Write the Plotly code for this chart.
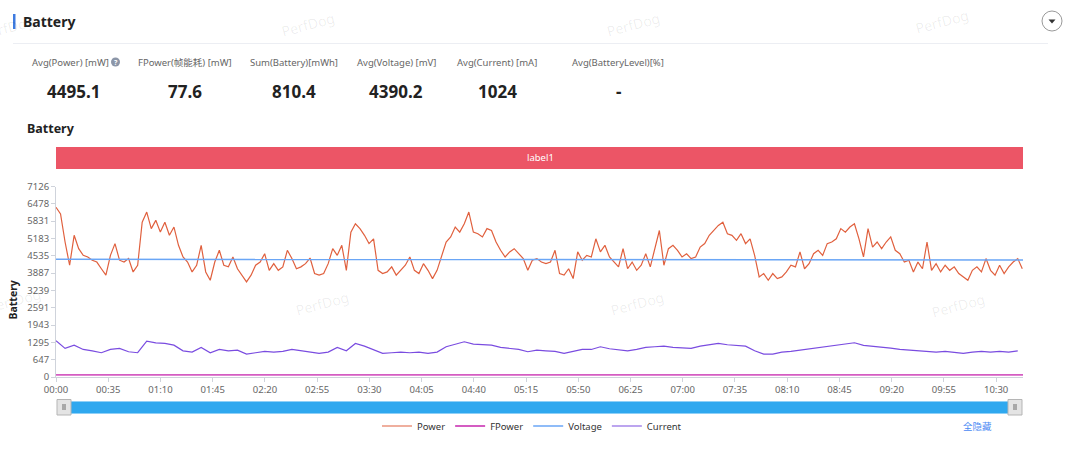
import plotly.graph_objects as go

W, H = 1080, 466

# ---------------- data ----------------
power_step = 3.04          # seconds between power samples
power = [
    6350, 6100, 5050, 4180, 5300, 4800, 4550, 4490, 4370, 4300,
    4050, 3810, 4550, 4990, 4370, 4300, 4430, 3930, 4180, 5790,
    6170, 5550, 5860, 5420, 5790, 5300, 5610, 4925, 4490, 4300,
    3930, 4180, 4925, 3930, 3620, 4300, 4740, 4180, 4120, 4490,
    4050, 3810, 3560, 3810, 4180, 4300, 4610, 3990, 4240, 3990,
    4120, 4740, 4430, 4050,
    4120, 4240, 4450, 3870, 3810, 3870, 4240, 4800, 4550, 4925,
    3990, 5420, 5730, 5550, 5300, 4990, 5170, 3990, 3870, 3930,
    4120, 3810, 3990, 4180, 4490, 3990, 3870, 4240, 3990, 3680,
    3990, 4490, 5050, 5240, 5610, 5420, 5730, 6170, 5420, 5360,
    5240, 5550, 5480, 5050, 4740, 4490, 4680, 4800, 4610, 4430,
    3990, 4370, 4430,
    4300, 4240, 4300, 4740, 3870, 3810, 4050, 3680, 4680, 4370,
    4550, 4490, 5170, 4680, 4925, 4490, 4300, 4120, 4800, 4050,
    4300, 3990, 4180, 4610, 4120, 4800, 5480, 4180, 4800, 4925,
    4740, 4490, 4610, 4430, 4490, 4860, 4990, 5300, 5480, 5670,
    5790, 5360, 5300, 5110, 5360, 4990, 5170, 4550, 3745, 3870,
    3620, 3870, 3680,
    3745, 3930, 4180, 4120, 4680, 4050, 4240, 4610, 4740, 4550,
    4990, 5050, 5170, 5550, 5420, 5610, 5730, 5170, 4490, 5550,
    4860, 5050, 4800, 5050, 5240, 4740, 4610, 4300, 4370, 3930,
    4300, 4050, 5050, 3990, 4240, 3930, 4180, 3990, 4120, 3870,
    3745, 3620, 3990, 4120, 3930, 4430, 3990, 3810, 4180, 3870,
    4120, 4300, 4430, 4050,
]

current_step = 6.08
current = [
    1355, 1070, 1190, 1030, 980, 908, 1030, 1070, 945, 908,
    1343, 1280, 1256, 1190, 980, 933, 1107, 908, 1030, 980,
    1007, 858, 908, 958, 933, 958, 1030, 980, 908, 883,
    933, 1107, 980, 1256, 1156, 1030, 883, 908, 933, 908,
    933, 883, 933, 1131, 1231, 1318, 1231, 1206, 1194, 1107,
    1057, 1030, 945, 1007,
    980, 958, 883, 945, 1030, 1030, 1131, 1057, 1030, 980,
    1030, 1107, 1131, 1156, 1107, 1082, 1070, 1156, 1206, 1256,
    1206, 1181, 1156, 980, 858, 858, 933, 958, 1007, 1057,
    1107, 1131, 1181, 1231, 1281, 1181, 1156, 1131, 1082, 1030,
    1007, 980, 958, 933, 958, 933, 883, 933, 958, 933,
    958, 933, 980,
]

slow_t = [0, 60, 120, 180, 240, 300, 360, 420, 480, 540, 600, 648]
voltage = [4402, 4400, 4398, 4396, 4394, 4392, 4390, 4388, 4386, 4384, 4382, 4380]
fpower = [82, 79, 78, 80, 77, 76, 78, 77, 76, 78, 77, 76]

x_end = 648
y_ticks = [0, 647, 1295, 1943, 2591, 3239, 3887, 4535, 5183, 5831, 6478, 7126]
x_tick_sec = [0, 35, 70, 105, 140, 175, 210, 245, 280, 315, 350, 385,
              420, 455, 490, 525, 560, 595, 630]
x_tick_labels = ["00:00", "00:35", "01:10", "01:45", "02:20", "02:55", "03:30",
                 "04:05", "04:40", "05:15", "05:50", "06:25", "07:00", "07:35",
                 "08:10", "08:45", "09:20", "09:55", "10:30"]

stat_labels = ["Avg(Power) [mW]", "FPower(帧能耗) [mW]", "Sum(Battery)[mWh]",
               "Avg(Voltage) [mV]", "Avg(Current) [mA]", "Avg(BatteryLevel)[%]"]
stat_values = ["4495.1", "77.6", "810.4", "4390.2", "1024", "-"]

# ---------------- helpers ----------------
def px(x):
    return x / W

def py(y):
    return 1 - y / H

def note(text, x, y, size, color, anchor="center", angle=0):
    return dict(text=text, x=px(x), y=py(y), xref="paper", yref="paper",
                xanchor=anchor, yanchor="middle", showarrow=False,
                textangle=angle, font=dict(size=size, color=color))

def prect(x0, x1, y0, y1, fill, line=None):
    return dict(type="rect", xref="paper", yref="paper", layer="above",
                x0=px(x0), x1=px(x1), y0=py(y1), y1=py(y0),
                fillcolor=fill, line=line or dict(width=0))

FONT = "Noto Sans, Noto Sans CJK SC, sans-serif"

power_t = [i * power_step for i in range(len(power))]
current_t = [i * current_step for i in range(len(current))]

fig = go.Figure()
fig.add_trace(go.Scatter(x=power_t, y=power, name="Power", mode="lines",
                         line=dict(color="#e0603e", width=1.2)))
fig.add_trace(go.Scatter(x=slow_t, y=fpower, name="FPower", mode="lines",
                         cliponaxis=False,
                         line=dict(color="#d45cc2", width=1.8)))
fig.add_trace(go.Scatter(x=slow_t, y=voltage, name="Voltage", mode="lines",
                         line=dict(color="#6aa6f6", width=1.5)))
fig.add_trace(go.Scatter(x=current_t, y=current, name="Current", mode="lines",
                         line=dict(color="#7a4ce0", width=1.2)))

shapes = []
annotations = []

# watermarks
for wx, wy in [(8, 28), (308, 25), (633, 24), (942, 22),
               (14, 300), (322, 303), (637, 303), (958, 305)]:
    annotations.append(note("PerfDog", wx, wy, 14, "rgba(0,0,0,0.07)", angle=-15))

# header
shapes.append(prect(13, 15.5, 14, 29, "#3e7be0"))
annotations.append(note("<b>Battery</b>", 21, 22, 14, "#222", anchor="left"))
shapes.append(dict(type="line", xref="paper", yref="paper",
                   x0=px(13), x1=px(1048), y0=py(43.5), y1=py(43.5),
                   line=dict(color="#eceef3", width=1.2)))
shapes.append(dict(type="circle", xref="paper", yref="paper",
                   x0=px(1042), x1=px(1062), y0=py(31), y1=py(11),
                   fillcolor="white", line=dict(color="#9a9a9a", width=1)))
shapes.append(dict(type="path", xref="paper", yref="paper",
                   path=f"M{px(1048.5)},{py(19.5)} L{px(1055.5)},{py(19.5)} L{px(1052)},{py(23.5)} Z",
                   fillcolor="#333", line=dict(width=0)))

# stats
stat_x = [73, 185, 294, 396, 497, 618]
for lab, val, x in zip(stat_labels, stat_values, stat_x):
    annotations.append(note(lab, x - 3 if x == 73 else x, 62, 9.5, "#666"))
    annotations.append(note(f"<b>{val}</b>", x, 91, 17, "#222"))
shapes.append(dict(type="circle", xref="paper", yref="paper",
                   x0=px(111), x1=px(120), y0=py(66.5), y1=py(57.5),
                   fillcolor="#8c96a8", line=dict(width=0)))
annotations.append(note("<b>?</b>", 115.5, 62, 7, "white"))

# subtitle
annotations.append(note("<b>Battery</b>", 25, 129, 12.5, "#222", anchor="left"))

# label bar
shapes.append(prect(56, 1023, 147, 169, "#ec5566"))
annotations.append(note("label1", 540, 158, 9.5, "white"))

# y-axis title
annotations.append(note("<b>Battery</b>", 12.5, 300, 10.5, "#222", angle=-90))

# slider
shapes.append(prect(60, 1019, 401.5, 413.5, "#2fa8ef", dict(color="#8fd0f7", width=1)))
for hx in (57, 1008):
    shapes.append(prect(hx, hx + 14, 399.5, 415, "#e4e4e4", dict(color="#b5b5b5", width=1)))
    shapes.append(prect(hx + 5, hx + 9, 404, 410, "#a8a8a8"))

annotations.append(note("全隐藏", 977, 426, 9.5, "#4a8af4"))

fig.update_layout(
    width=W, height=H,
    margin=dict(l=0, r=0, t=0, b=0, pad=0),
    paper_bgcolor="white", plot_bgcolor="white",
    font=dict(family=FONT, size=10, color="#666"),
    shapes=shapes, annotations=annotations,
    showlegend=True,
    legend=dict(orientation="h", x=px(532), xanchor="center", y=py(426),
                yanchor="middle", font=dict(size=9.5, color="#333"),
                bgcolor="rgba(0,0,0,0)", itemwidth=30),
    xaxis=dict(domain=[px(56), px(1023)], range=[0, x_end], automargin=False,
               tickmode="array", tickvals=x_tick_sec, ticktext=x_tick_labels,
               showgrid=False, zeroline=False, showline=True, linecolor="#cfd3db",
               ticks="outside", ticklen=4, tickcolor="#cfd3db", layer="below traces",
               tickfont=dict(size=9.5, color="#666")),
    yaxis=dict(domain=[py(377), py(186.5)], range=[0, 7126], automargin=False,
               tickmode="array", tickvals=y_ticks,
               showgrid=False, zeroline=False, showline=True, linecolor="#cfd3db",
               ticks="outside", ticklen=4, tickcolor="#cfd3db", layer="below traces",
               tickfont=dict(size=9.5, color="#666")),
)

fig.write_html("out.html", config={"displayModeBar": False})
